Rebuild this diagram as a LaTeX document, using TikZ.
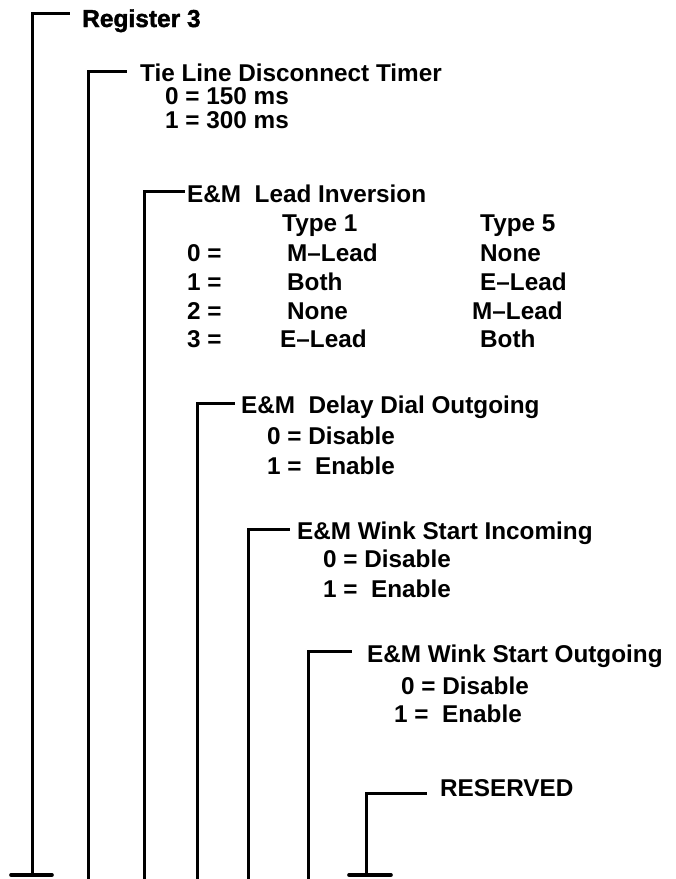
\documentclass[tikz,border=0pt]{standalone}
\usepackage{fontspec}
\setmainfont{Liberation Sans}
\newfontfamily\heavyfont[FakeBold=1.6]{Liberation Sans Bold}
\usetikzlibrary{positioning}

\begin{document}
\begin{tikzpicture}[x=1pt, y=-1pt,
    bracket/.style={line width=3pt, line cap=butt},
    foot/.style={line width=3.6pt, line cap=round},
    title/.style={anchor=base west, inner sep=0pt, font=\fontsize{24.3}{29}\selectfont\bfseries},
    entry/.style={anchor=base west, inner sep=0pt, font=\fontsize{24.3}{29}\selectfont\bfseries}]

    \useasboundingbox[fill=white] (0,0) rectangle (676,879);

    % ================= REGISTER 3 =================
    \node[title, font=\fontsize{24.5}{29}\heavyfont] (reg) at (82,27) {Register 3};
    \coordinate (regTop) at (70,13);
    \coordinate (regFoot) at (32,875);
    \draw[bracket] (regFoot) |- (regTop);
    \draw[foot] ([xshift=-21pt]regFoot) -- ([xshift=20pt]regFoot);

    % Tie line disconnect timer
    \node[title] (tie) at (140,81) {Tie Line Disconnect Timer};
    \node[entry] (tie0) at (165,104) {0 = 150 ms};
    \node[entry] (tie1) at (165,128) {1 = 300 ms};
    \coordinate (tieTop) at (127,71);
    \coordinate (tieFoot) at (88,879);
    \draw[bracket] (tieFoot) |- (tieTop);

    % ================= LEAD INVERSION =================
    \node[title] (lead) at (187,202) {E\&M\ \ Lead Inversion};
    \node[entry] (type1) at (282,231) {Type 1};
    \node[entry] (type5) at (480,231) {Type 5};
    \node[entry] (lead0) at (187,261) {0 =};
    \node[entry] (lead1) at (187,290) {1 =};
    \node[entry] (lead2) at (187,319) {2 =};
    \node[entry] (lead3) at (187,347) {3 =};
    \node[entry] (t10) at (287,261) {M\textendash Lead};
    \node[entry] (t11) at (287,290) {Both};
    \node[entry] (t12) at (287,319) {None};
    \node[entry] (t13) at (280,347) {E\textendash Lead};
    \node[entry] (t50) at (480,261) {None};
    \node[entry] (t51) at (480,290) {E\textendash Lead};
    \node[entry] (t52) at (472,319) {M\textendash Lead};
    \node[entry] (t53) at (480,347) {Both};
    \coordinate (leadTop) at (185,191);
    \coordinate (leadFoot) at (144,879);
    \draw[bracket] (leadFoot) |- (leadTop);

    % ================= DELAY DIAL / WINK START =================
    \node[title] (delay) at (241,413) {E\&M\ \ Delay Dial Outgoing};
    \node[entry] (delay0) at (267,444) {0 = Disable};
    \node[entry] (delay1) at (267,474) {1 =\ \ Enable};
    \coordinate (delayTop) at (235,403);
    \coordinate (delayFoot) at (197,879);
    \draw[bracket] (delayFoot) |- (delayTop);

    \node[title] (winkin) at (297,539) {E\&M Wink Start Incoming};
    \node[entry] (winkin0) at (323,567) {0 = Disable};
    \node[entry] (winkin1) at (323,597) {1 =\ \ Enable};
    \coordinate (winkinTop) at (290,529);
    \coordinate (winkinFoot) at (248,879);
    \draw[bracket] (winkinFoot) |- (winkinTop);

    \node[title] (winkout) at (367,662) {E\&M Wink Start Outgoing};
    \node[entry] (winkout0) at (401,694) {0 = Disable};
    \node[entry] (winkout1) at (394,722) {1 =\ \ Enable};
    \coordinate (winkoutTop) at (352,651);
    \coordinate (winkoutFoot) at (308,879);
    \draw[bracket] (winkoutFoot) |- (winkoutTop);

    % Reserved bit
    \node[title] (resv) at (440,796) {RESERVED};
    \coordinate (resvTop) at (427,793);
    \coordinate (resvFoot) at (366,875);
    \draw[bracket] (resvFoot) |- (resvTop);
    \draw[foot] ([xshift=-17pt]resvFoot) -- ([xshift=25pt]resvFoot);

\end{tikzpicture}
\end{document}
